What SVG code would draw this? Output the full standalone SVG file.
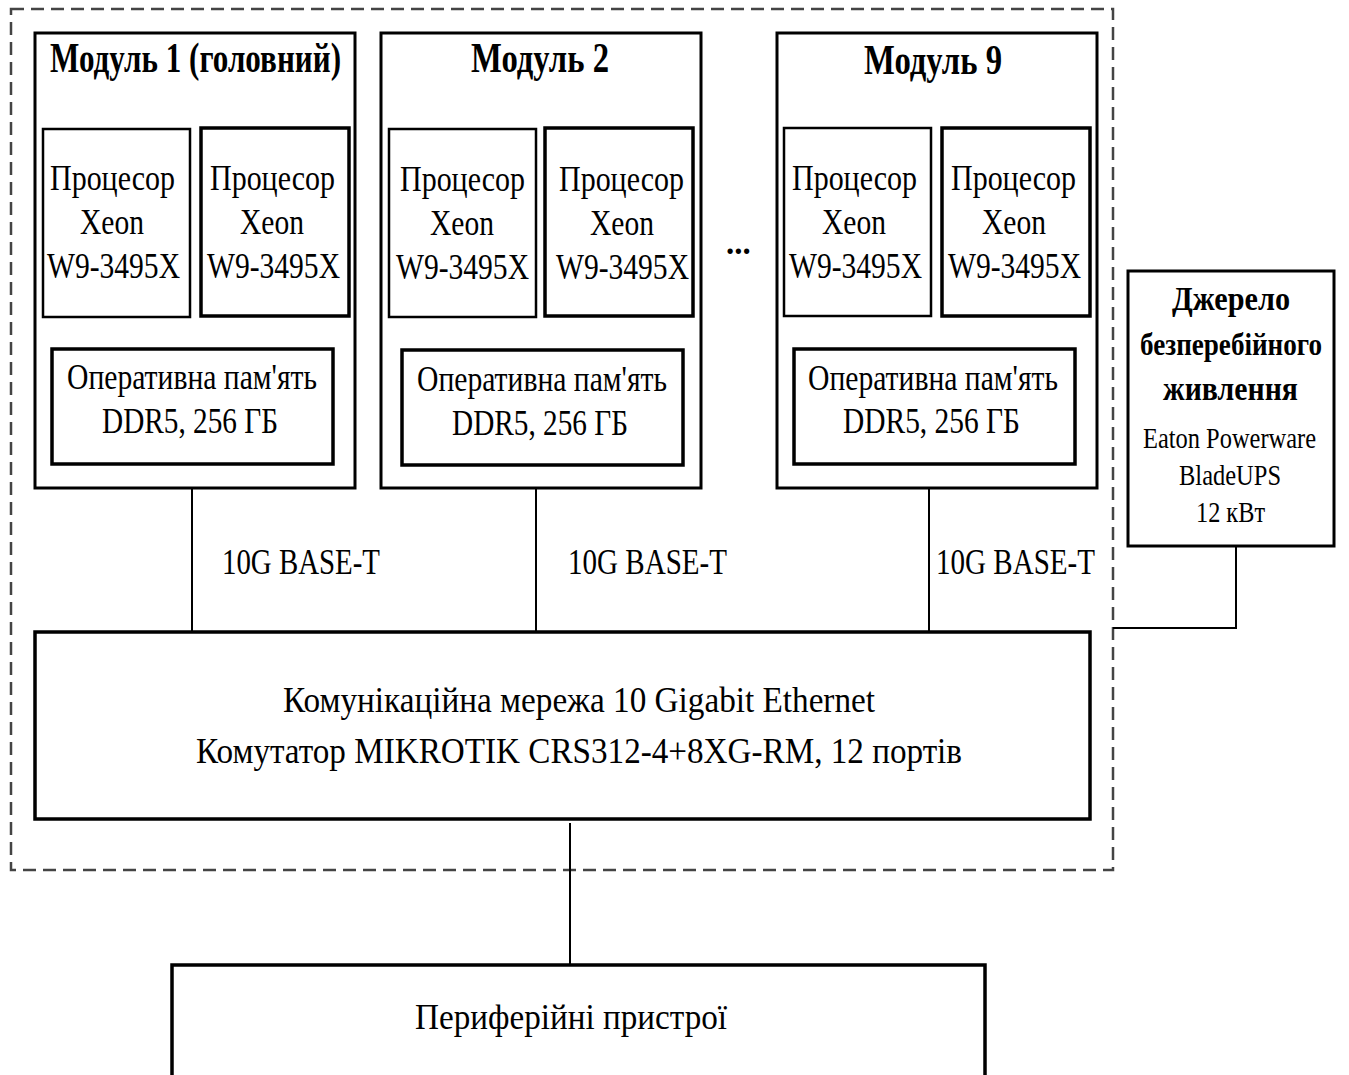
<svg xmlns="http://www.w3.org/2000/svg" width="1349" height="1075" viewBox="0 0 1349 1075">
<style>
.box{fill:#fff;stroke:#000;stroke-width:3}
.in{fill:#fff;stroke:#000;stroke-width:2.5}
.ram{fill:#fff;stroke:#000;stroke-width:3.5}
.wire{fill:none;stroke:#000;stroke-width:2}
.t{font-family:"Liberation Serif","Times New Roman",serif;font-size:35px;fill:#000}
.b{font-family:"Liberation Serif","Times New Roman",serif;font-size:43px;font-weight:bold;fill:#000}
.u{font-family:"Liberation Serif","Times New Roman",serif;font-size:33px;font-weight:bold;fill:#000}
.s{font-family:"Liberation Serif","Times New Roman",serif;font-size:29px;fill:#000}
</style>
<rect width="1349" height="1075" fill="#fff"/>
<rect id="cluster" x="11" y="9" width="1102" height="861" fill="none" stroke="#444" stroke-width="2.5" stroke-dasharray="13 7"/>
<g id="connectors">
<path class="wire" d="M192 488V632M536 488V632M929 488V632"/>
<path class="wire" d="M570 823V965"/>
<path class="wire" d="M1236 546V628H1113"/>
<text class="t" x="222" y="574" textLength="158" lengthAdjust="spacingAndGlyphs">10G BASE-T</text>
<text class="t" x="568" y="574" textLength="159" lengthAdjust="spacingAndGlyphs">10G BASE-T</text>
<text class="t" x="936" y="574" textLength="159" lengthAdjust="spacingAndGlyphs">10G BASE-T</text>
</g>
<g id="module1">
<rect class="box" x="35" y="33" width="320" height="455"/>
<text class="b" x="50" y="72" textLength="291" lengthAdjust="spacingAndGlyphs">Модуль 1 (головний)</text>
<rect class="in" x="43" y="129" width="147" height="188"/>
<text class="t" x="50" y="190" textLength="125" lengthAdjust="spacingAndGlyphs">Процесор</text>
<text class="t" x="80" y="234" textLength="64" lengthAdjust="spacingAndGlyphs">Xeon</text>
<text class="t" x="47" y="278" textLength="133" lengthAdjust="spacingAndGlyphs">W9-3495X</text>
<rect class="ram" x="201" y="128" width="148" height="188"/>
<text class="t" x="210" y="190" textLength="125" lengthAdjust="spacingAndGlyphs">Процесор</text>
<text class="t" x="240" y="234" textLength="64" lengthAdjust="spacingAndGlyphs">Xeon</text>
<text class="t" x="207" y="278" textLength="133" lengthAdjust="spacingAndGlyphs">W9-3495X</text>
<rect class="ram" x="52" y="349" width="281" height="115"/>
<text class="t" x="67" y="389" textLength="250" lengthAdjust="spacingAndGlyphs">Оперативна пам'ять</text>
<text class="t" x="102" y="433" textLength="176" lengthAdjust="spacingAndGlyphs">DDR5, 256 ГБ</text>
</g>
<g id="module2">
<rect class="box" x="381" y="33" width="320" height="455"/>
<text class="b" x="471" y="72" textLength="138" lengthAdjust="spacingAndGlyphs">Модуль 2</text>
<rect class="in" x="389" y="129" width="147" height="188"/>
<text class="t" x="400" y="191" textLength="125" lengthAdjust="spacingAndGlyphs">Процесор</text>
<text class="t" x="430" y="235" textLength="64" lengthAdjust="spacingAndGlyphs">Xeon</text>
<text class="t" x="396" y="279" textLength="133" lengthAdjust="spacingAndGlyphs">W9-3495X</text>
<rect class="ram" x="545" y="128" width="148" height="188"/>
<text class="t" x="559" y="191" textLength="125" lengthAdjust="spacingAndGlyphs">Процесор</text>
<text class="t" x="590" y="235" textLength="64" lengthAdjust="spacingAndGlyphs">Xeon</text>
<text class="t" x="556" y="279" textLength="133" lengthAdjust="spacingAndGlyphs">W9-3495X</text>
<rect class="ram" x="402" y="350" width="281" height="115"/>
<text class="t" x="417" y="391" textLength="250" lengthAdjust="spacingAndGlyphs">Оперативна пам'ять</text>
<text class="t" x="452" y="435" textLength="176" lengthAdjust="spacingAndGlyphs">DDR5, 256 ГБ</text>
</g>
<text id="ellipsis" class="u" x="726" y="254">...</text>
<g id="module9">
<rect class="box" x="777" y="33" width="320" height="455"/>
<text class="b" x="864" y="74" textLength="138" lengthAdjust="spacingAndGlyphs">Модуль 9</text>
<rect class="in" x="784" y="128" width="147" height="188"/>
<text class="t" x="792" y="190" textLength="125" lengthAdjust="spacingAndGlyphs">Процесор</text>
<text class="t" x="822" y="234" textLength="64" lengthAdjust="spacingAndGlyphs">Xeon</text>
<text class="t" x="789" y="278" textLength="133" lengthAdjust="spacingAndGlyphs">W9-3495X</text>
<rect class="ram" x="942" y="128" width="148" height="188"/>
<text class="t" x="951" y="190" textLength="125" lengthAdjust="spacingAndGlyphs">Процесор</text>
<text class="t" x="982" y="234" textLength="64" lengthAdjust="spacingAndGlyphs">Xeon</text>
<text class="t" x="948" y="278" textLength="133" lengthAdjust="spacingAndGlyphs">W9-3495X</text>
<rect class="ram" x="794" y="349" width="281" height="115"/>
<text class="t" x="808" y="390" textLength="250" lengthAdjust="spacingAndGlyphs">Оперативна пам'ять</text>
<text class="t" x="843" y="433" textLength="177" lengthAdjust="spacingAndGlyphs">DDR5, 256 ГБ</text>
</g>
<g id="ups">
<rect class="box" x="1128" y="271" width="206" height="275"/>
<text class="u" x="1172" y="310" textLength="118" lengthAdjust="spacingAndGlyphs">Джерело</text>
<text class="u" x="1140" y="355" textLength="182" lengthAdjust="spacingAndGlyphs" style="font-size:31px">безперебійного</text>
<text class="u" x="1163" y="400" textLength="135" lengthAdjust="spacingAndGlyphs">живлення</text>
<text class="s" x="1143" y="448" textLength="173" lengthAdjust="spacingAndGlyphs">Eaton Powerware</text>
<text class="s" x="1179" y="485" textLength="102" lengthAdjust="spacingAndGlyphs">BladeUPS</text>
<text class="s" x="1196" y="522" textLength="69" lengthAdjust="spacingAndGlyphs">12 кВт</text>
</g>
<g id="switch">
<rect class="ram" x="35" y="632" width="1055" height="187"/>
<text class="t" x="283" y="712" textLength="592" lengthAdjust="spacingAndGlyphs">Комунікаційна мережа 10 Gigabit Ethernet</text>
<text class="t" x="196" y="763" textLength="766" lengthAdjust="spacingAndGlyphs">Комутатор MIKROTIK CRS312-4+8XG-RM, 12 портів</text>
</g>
<g id="peripherals">
<rect class="ram" x="172" y="965" width="813" height="115"/>
<text class="t" x="415" y="1029" textLength="312" lengthAdjust="spacingAndGlyphs">Периферійні пристрої</text>
</g>
</svg>
